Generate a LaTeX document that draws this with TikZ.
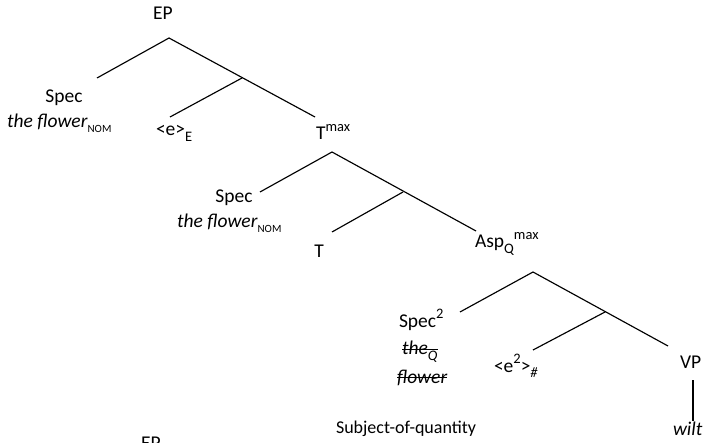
\documentclass[tikz,border=0pt]{standalone}
\usepackage{fontspec}
\setmainfont{Carlito}
\newsavebox\strkbox
\newcommand\strk[1]{\sbox\strkbox{#1}\rlap{\rule[0.24em]{\wd\strkbox}{0.075em}}\usebox\strkbox}
\newcommand\sps[1]{\raisebox{0.42em}{\fontsize{14.5}{14.5}\selectfont #1}}
\newcommand\sbs[1]{\raisebox{-0.28em}{\fontsize{14.5}{14.5}\selectfont #1}}
\newcommand\nomsub{\raisebox{-0.22em}{\fontsize{11}{11}\selectfont NOM}}
\begin{document}
\begin{tikzpicture}[x=1pt,y=-1pt,
  every node/.style={inner sep=0pt, outer sep=0pt, font=\fontsize{19.5}{23}\selectfont},
  branch/.style={line width=1.15pt},
  lbl/.style={anchor=base west},
  lblc/.style={anchor=base}]
\useasboundingbox (0,0) rectangle (709,443);
\clip (0,0) rectangle (709,443);
% tree 1
\node[lblc] (ep) at (163,20) {EP};
\node[lblc] (spec1) at (64,103) {Spec};
\node[lbl] (flower1) at (7,128) {\textit{the flower}\nomsub};
\node[lbl] (e1) at (156,136) {<e>\sbs{E}};
\node[lbl] (tmax) at (316,140) {T\sps{max}};
\coordinate (a1) at (169,38);
\coordinate (l1) at (97,78);
\coordinate (m1) at (242,78);
\coordinate (me1) at (170,117);
\coordinate (r1) at (315,117);
\draw[branch] (l1) -- (a1) -- (r1);
\draw[branch] (m1) -- (me1);
% tree 2
\node[lblc] (spec2) at (234,203) {Spec};
\node[lbl] (flower2) at (177,228) {\textit{the flower}\nomsub};
\node[lblc] (t2) at (319,258) {T};
\node[lbl] (asp) at (475,248) {Asp\sbs{Q}\sps{max}};
\coordinate (a2) at (332,152);
\coordinate (l2) at (260,192);
\coordinate (m2) at (403,192);
\coordinate (me2) at (332,232);
\coordinate (r2) at (476,231);
\draw[branch] (l2) -- (a2) -- (r2);
\draw[branch] (m2) -- (me2);
% tree 3
\node[lbl] (spec3) at (399,327) {Spec\sps{2}};
\node[lbl] (theq) at (402,355) {\strk{\textit{the}\sbs{\textit{Q}}}};
\node[lbl] (flw) at (397,383) {\strk{\textit{flower}}};
\node[lbl] (e2) at (494,372) {<e\sps{2}>\sbs{\textit{\#}}};
\node[lbl] (vp) at (680,368) {VP};
\node[lbl] (wilt) at (673,435) {\textit{wilt}};
\node[lbl, font=\fontsize{18}{21}\selectfont] (soq) at (336,433) {Subject-of-quantity};
\coordinate (a3) at (533,272);
\coordinate (l3) at (460,312);
\coordinate (m3) at (605,312);
\coordinate (me3) at (533,350);
\coordinate (r3) at (668,346);
\draw[branch] (l3) -- (a3) -- (r3);
\draw[branch] (m3) -- (me3);
\coordinate (v1) at (693,380);
\coordinate (v2) at (693,421);
\draw[branch] (v1) -- (v2);
% clipped label at bottom
\node[anchor=north] (ep2) at (151,437) {EP};
\end{tikzpicture}
\end{document}
